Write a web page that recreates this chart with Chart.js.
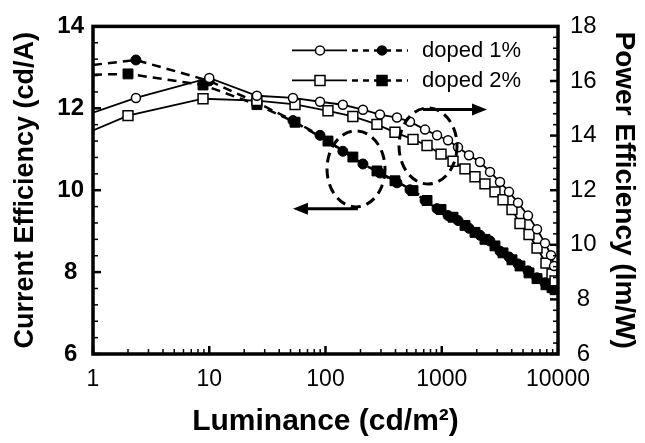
<!DOCTYPE html>
<html lang="en">
<head>
<meta charset="UTF-8">
<title>Current / Power Efficiency vs Luminance</title>
<script src="https://cdn.jsdelivr.net/npm/chart.js"></script>
<style>
  html, body { margin: 0; padding: 0; background: #fff; }
  canvas { display: block; }
</style>
</head>
<body>
<canvas id="chart" width="645" height="443"></canvas>
<script>
// doped 1% (circles): open = power efficiency (right), filled = current efficiency (left)
const lum1 = [1, 2.34, 10, 25.7, 52.5, 89.7, 141, 210, 294, 412, 533, 718, 911, 1132, 1380, 1715, 2132, 2600, 3170, 3790, 4530, 5520, 6600, 7730, 8710, 9250];
const power1 = [14.84, 15.38, 16.11, 15.46, 15.38, 15.24, 15.13, 14.95, 14.77, 14.66, 14.51, 14.22, 14.01, 13.83, 13.57, 13.28, 13.03, 12.67, 12.30, 11.94, 11.54, 11.07, 10.57, 10.06, 9.62, 9.22];
const current1 = [13.06, 13.18, 12.67, 12.14, 11.70, 11.34, 10.95, 10.64, 10.42, 10.18, 10.01, 9.75, 9.55, 9.38, 9.26, 9.07, 8.90, 8.76, 8.51, 8.37, 8.20, 8.03, 7.86, 7.74, 7.67, 7.60];

// doped 2% (squares)
const lum2 = [1, 2.0, 8.84, 25.7, 54.7, 105, 172, 277, 396, 566, 747, 986, 1250, 1585, 1932, 2355, 2870, 3365, 4020, 4710, 5630, 6600, 7880, 8880, 9420];
const power2 = [14.19, 14.73, 15.35, 15.28, 15.14, 14.91, 14.70, 14.41, 14.12, 13.86, 13.64, 13.32, 13.06, 12.78, 12.49, 12.23, 11.94, 11.65, 11.29, 10.78, 10.38, 9.88, 9.33, 8.93, 8.68];
const current2 = [12.82, 12.84, 12.57, 12.09, 11.66, 11.20, 10.81, 10.47, 10.23, 9.99, 9.75, 9.53, 9.34, 9.14, 8.97, 8.80, 8.64, 8.47, 8.30, 8.15, 7.98, 7.84, 7.69, 7.62, 7.57];

const seriesNames = ['doped 1%', 'doped 2%'];
const xTicks = [1, 10, 100, 1000, 10000];

const FONT = "'Liberation Sans', Arial, Helvetica, sans-serif";
Chart.defaults.font.family = FONT;
Chart.defaults.color = '#000';

const pts = (xs, ys) => xs.map((x, i) => ({ x, y: ys[i] }));

function openSet(xs, ys, style, r) {
  return {
    data: pts(xs, ys), yAxisID: 'y2',
    borderColor: '#000', borderWidth: 1.8,
    pointStyle: style,
    pointRadius: ctx => ctx.dataIndex === 0 ? 0 : r,
    pointBackgroundColor: '#fff', pointBorderColor: '#000', pointBorderWidth: 1.5,
    tension: 0
  };
}
function filledSet(xs, ys, style, r) {
  return {
    data: pts(xs, ys), yAxisID: 'y',
    borderColor: '#000', borderWidth: 2.5, borderDash: [9, 6],
    pointStyle: style,
    pointRadius: ctx => ctx.dataIndex === 0 ? 0 : r,
    pointBackgroundColor: '#000', pointBorderColor: '#000', pointBorderWidth: 1,
    tension: 0
  };
}

// frame, inward ticks, legend and the circle/arrow notes
const decor = {
  id: 'decor',
  afterDraw(chart) {
    const { ctx, chartArea: a, scales } = chart;
    const sx = scales.x, sy = scales.y, sy2 = scales.y2;
    ctx.save();
    ctx.strokeStyle = '#000';
    ctx.fillStyle = '#000';

    const seg = (x1, y1, x2, y2) => { ctx.beginPath(); ctx.moveTo(x1, y1); ctx.lineTo(x2, y2); ctx.stroke(); };

    // x ticks (log)
    for (let d = 0; d < 4; d++) {
      for (let m = 1; m <= 9; m++) {
        const px = sx.getPixelForValue(m * Math.pow(10, d));
        ctx.lineWidth = m === 1 ? 2.5 : 1.5;
        seg(px, a.bottom, px, a.bottom - (m === 1 ? 8 : 5));
      }
    }
    // left ticks
    for (let i = 0; i <= 20; i++) {
      const py = sy.getPixelForValue(6 + i * 0.4);
      const major = i % 5 === 0;
      ctx.lineWidth = major ? 2.5 : 1.5;
      seg(a.left, py, a.left + (major ? 8 : 5), py);
    }
    // right ticks
    for (let i = 0; i <= 30; i++) {
      const py = sy2.getPixelForValue(6 + i * 0.4);
      const major = i % 5 === 0;
      ctx.lineWidth = major ? 2.5 : 1.5;
      seg(a.right, py, a.right - (major ? 8 : 5), py);
    }
    // frame
    ctx.lineWidth = 3.5;
    ctx.strokeRect(a.left, a.top, a.right - a.left, a.bottom - a.top);

    // legend
    const marker = (x, y, style, filled) => {
      ctx.setLineDash([]);
      ctx.lineWidth = 1.5;
      ctx.beginPath();
      if (style === 'circle') ctx.arc(x, y, 4.5, 0, Math.PI * 2);
      else ctx.rect(x - 5, y - 5, 10, 10);
      ctx.fillStyle = filled ? '#000' : '#fff';
      ctx.fill();
      ctx.stroke();
    };
    const rows = [
      { name: seriesNames[0], style: 'circle', y: a.top + 24 },
      { name: seriesNames[1], style: 'rect', y: a.top + 54 }
    ];
    rows.forEach(r => {
      const R = a.right;
      ctx.setLineDash([]);
      ctx.lineWidth = 1.8;
      seg(R - 266, r.y, R - 211, r.y);
      marker(R - 238, r.y, r.style, false);
      ctx.lineWidth = 2.5;
      ctx.setLineDash([6, 5]);
      seg(R - 206, r.y, R - 150, r.y);
      marker(R - 176, r.y, r.style, true);
      ctx.setLineDash([]);
      ctx.fillStyle = '#000';
      ctx.font = '22px ' + FONT;
      ctx.textBaseline = 'middle';
      ctx.textAlign = 'left';
      ctx.fillText(r.name, R - 136, r.y + 1);
    });

    // dashed ellipses
    ctx.lineWidth = 3;
    ctx.setLineDash([10, 6]);
    [[183, 10.52], [762, 11.08]].forEach(([lx, ly]) => {
      ctx.beginPath();
      ctx.ellipse(sx.getPixelForValue(lx), sy.getPixelForValue(ly), 29, 38, 0, 0, Math.PI * 2);
      ctx.stroke();
    });
    ctx.setLineDash([]);

    // arrows
    const arrow = (fromL, toL, val) => {
      const y = sy.getPixelForValue(val);
      const x1 = sx.getPixelForValue(fromL), x2 = sx.getPixelForValue(toL);
      const dir = Math.sign(x2 - x1);
      ctx.lineWidth = 3;
      seg(x1, y, x2 - dir * 12, y);
      ctx.beginPath();
      ctx.moveTo(x2, y);
      ctx.lineTo(x2 - dir * 15, y - 6);
      ctx.lineTo(x2 - dir * 15, y + 6);
      ctx.closePath();
      ctx.fillStyle = '#000';
      ctx.fill();
    };
    arrow(190, 52.5, 9.55);
    arrow(690, 2450, 11.97);
    ctx.restore();
  }
};

new Chart(document.getElementById('chart'), {
  type: 'line',
  data: {
    datasets: [
      openSet(lum1, power1, 'circle', 4.5),
      openSet(lum2, power2, 'rect', 7),
      filledSet(lum1, current1, 'circle', 5),
      filledSet(lum2, current2, 'rect', 7)
    ]
  },
  options: {
    responsive: false,
    animation: false,
    layout: { padding: { top: 23, left: 0, right: 0, bottom: 0 } },
    plugins: { legend: { display: false }, tooltip: { enabled: false } },
    scales: {
      x: {
        type: 'logarithmic', min: 1, max: 10000, position: 'bottom',
        grid: { display: false, drawTicks: false }, border: { display: false },
        ticks: {
          autoSkip: false, maxRotation: 0, padding: 12,
          font: { size: 23 },
          callback: v => xTicks.includes(v) ? String(v) : ''
        },
        title: { display: true, text: 'Luminance (cd/m²)', font: { size: 30, weight: 'bold' }, padding: { top: 0, bottom: 3 } },
        afterFit: s => { s.height = 89; }
      },
      y: {
        position: 'left', min: 6, max: 14,
        grid: { display: false, drawTicks: false }, border: { display: false },
        ticks: { stepSize: 2, padding: 9, crossAlign: 'center', font: { size: 24, weight: 'bold' } },
        title: { display: true, text: 'Current Efficiency (cd/A)', font: { size: 27, weight: 'bold' }, padding: { top: 9, bottom: 0 } },
        afterFit: s => { s.width = 93; }
      },
      y2: {
        position: 'right', min: 6, max: 18,
        grid: { display: false, drawTicks: false }, border: { display: false },
        ticks: { stepSize: 2, padding: 12, crossAlign: 'center', font: { size: 24 } },
        title: { display: true, text: 'Power Efficiency (lm/W)', font: { size: 28, weight: 'bold' }, padding: { top: 4, bottom: 0 } },
        afterFit: s => { s.width = 87; }
      }
    }
  },
  plugins: [decor]
});
</script>
</body>
</html>
